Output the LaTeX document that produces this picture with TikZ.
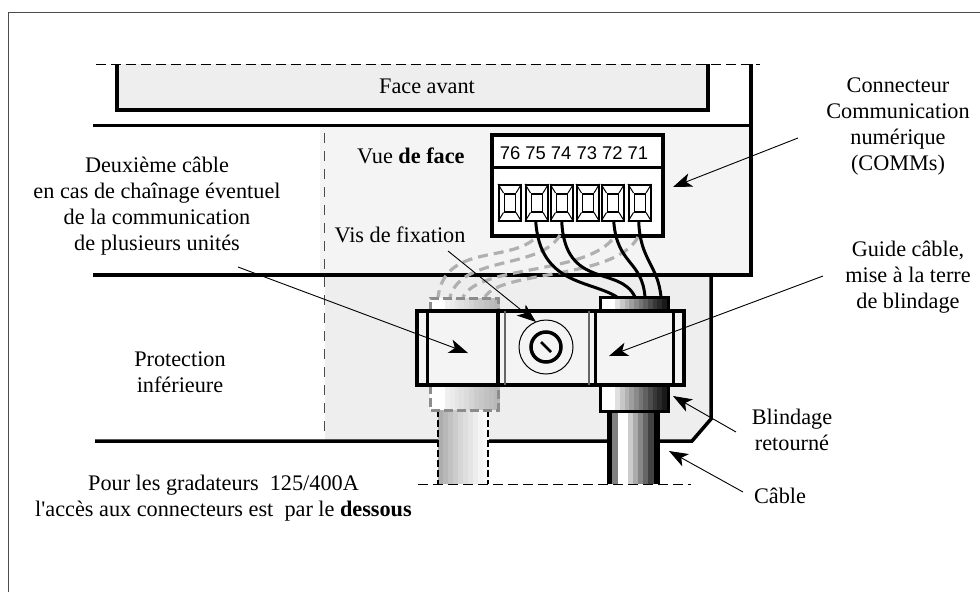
\documentclass[tikz,border=0pt]{standalone}
\usepackage{fontspec}
\setmainfont{Liberation Serif}
\newfontfamily\sansfont{Liberation Sans}
\usetikzlibrary{arrows.meta}
\definecolor{FaceFill}{RGB}{238,238,238}
\definecolor{PanelFill}{RGB}{244,244,244}
\definecolor{WireGrey}{RGB}{176,176,176}
\definecolor{DashGrey}{RGB}{140,140,140}

\begin{document}
\begin{tikzpicture}[x=1pt,y=-1pt,line join=miter,
  txt/.style={font=\fontsize{22.25}{26}\selectfont,align=center,inner sep=0pt},
  hull/.style={line width=3.5pt},
  leader/.style={line width=0.9pt,-{Stealth[length=19pt,width=14pt,inset=5pt]}},
  wire/.style={line width=3pt},
  dashwire/.style={line width=3.2pt,color=WireGrey,dash pattern=on 10pt off 6pt},
  cut/.style={line width=1pt,dash pattern=on 10pt off 5pt},
  band/.style={draw=none,fill=#1}]
\useasboundingbox (0,0) rectangle (980,592);
\draw[line width=1pt,black!70] (8,592) -- (8,12) -- (980,12);
% fills
\fill[FaceFill] (117,64) rectangle (708,110);
\fill[PanelFill] (320,127) rectangle (751,275);
\fill[FaceFill] (325,275) -- (711,275) -- (711,418) -- (692,441) -- (325,441) -- cycle;
% outline
\draw[hull] (117,64) -- (117,110) -- (708,110) -- (708,64);
\draw[cut] (96,64) -- (760,64);
\draw[hull] (93,125.5) -- (751,125.5);
\draw[hull] (751,64) -- (751,275) -- (93,275);
\draw[hull] (711,275) -- (711,419) -- (692,441) -- (95,441);
\draw[line width=1pt,black!70,dash pattern=on 10pt off 8pt] (324,133) -- (324,435);
% connector block
\node[draw,line width=3.5pt,fill=white,minimum width=171pt,minimum height=101pt,inner sep=0pt] (conn) at (577.5,185.5) {};
\draw[line width=3pt] (492,167) -- (663,167);
\node[font=\sansfont\fontsize{18.4}{20}\selectfont,inner sep=0pt] (numbers) at (574,153) {76 75 74 73 72 71};
\foreach \i/\x in {1/498,2/525,3/550,4/576,5/601,6/628} {
  \node[draw,line width=1.5pt,minimum width=22pt,minimum height=36pt,inner sep=0pt,anchor=north west] (term\i) at (\x,184) {};
  \node[draw,line width=1.5pt,minimum width=11pt,minimum height=18pt,inner sep=0pt] (slot\i) at (term\i.center) {};
  \draw[line width=1pt] (term\i.north west) -- (slot\i.north west) (term\i.north east) -- (slot\i.north east)
     (term\i.south west) -- (slot\i.south west) (term\i.south east) -- (slot\i.south east);
}
% dashed wires of the second cable
\draw[dashwire] (533,240) .. controls (505,262) and (445,245) .. (438,297);
\draw[dashwire] (560,235) .. controls (540,270) and (462,255) .. (450,297);
\draw[dashwire] (612,240) .. controls (580,275) and (480,265) .. (463,297);
\draw[dashwire] (638,237) .. controls (615,280) and (500,270) .. (485,297);
% wires
\draw[wire] (term2.south) ++(-1,0) .. controls (540,285) and (590,280) .. (617,297);
\draw[wire] (term3.south) ++(0,0) .. controls (565,290) and (620,265) .. (635,297);
\draw[wire] (term5.south) ++(1,0) .. controls (617,265) and (642,260) .. (645,297);
\draw[wire] (term6.south) ++(-1,0) .. controls (640,260) and (658,265) .. (661,297);
% collars and cables
\foreach \y/\h in {298/13,385/25} {
  \foreach \i/\g in {0/0,1/0,2/0,3/6,4/8,5/10,6/12,7/14,8/17,9/20,10/22,11/24,12/26,13/28} {
    \fill[band={black!\g}] (430+\i*4.9,\y) rectangle (436+\i*4.9,\y+\h);
  }
}
\foreach \y/\h in {298/13,385/26} {
  \foreach \i/\g in {0/0,1/0,2/0,3/12,4/22,5/30,6/38,7/46,8/54,9/62,10/70,11/78,12/84,13/90} {
    \fill[band={black!\g}] (601+\i*4.7,\y) rectangle (606+\i*4.7,\y+\h);
  }
}
\foreach \i/\g in {0/32,1/28,2/24,3/20,4/16,5/13,6/10,7/7,8/4,9/2} {
  \fill[band={black!\g}] (438+\i*5,410) rectangle (443.5+\i*5,484);
}
\foreach \x/\g/\w in {607/100/5.5,612/50/6.5,618/0/10,628/20/5,633/33/5,638/47/5,643/60/5,648/74/6,654/100/5.5} {
  \fill[band={black!\g}] (\x,411) rectangle (\x+\w,484);
}
\draw[line width=1.2pt,dash pattern=on 7pt off 3pt] (438,410) -- (438,484);
\draw[line width=1.2pt,dash pattern=on 7pt off 3pt] (488,410) -- (488,484);
\draw[line width=3pt,DashGrey,dash pattern=on 9pt off 4pt] (430,311) -- (430,298) -- (498,298) -- (498,311);
\draw[line width=3pt,DashGrey,dash pattern=on 9pt off 4pt] (430,385) -- (430,410) -- (498,410) -- (498,385);
\draw[line width=3pt] (600,311) -- (600,297) -- (668,297) -- (668,311);
\draw[line width=3pt] (600,385) -- (600,411) -- (668,411) -- (668,385);
\draw[cut] (418,484) -- (691,484);
% guide
\node[draw,line width=3.5pt,fill=PanelFill,minimum width=267pt,minimum height=74pt,inner sep=0pt] (guide) at (550.5,348) {};
\draw[line width=3pt] (427,311) -- (427,385);
\draw[line width=3.5pt] (498,311) -- (498,385);
\draw[line width=1.5pt,black!60] (505,311) -- (505,385);
\draw[line width=1.5pt,black!60] (589,311) -- (589,385);
\draw[line width=3pt] (595,311) -- (595,385);
\draw[line width=3pt] (673,311) -- (673,383);
% screw
\node[circle,draw,line width=1pt,minimum size=54pt,inner sep=0pt] (screw) at (546,347) {};
\node[circle,draw,line width=3.5pt,minimum size=30pt,inner sep=0pt] (head) at (screw.center) {};
\draw[line width=2.5pt] ([shift={(-5,-5)}]head.center) -- ([shift={(5,5)}]head.center);
% labels
\node[txt] (face) at (427,86.5) {Face avant};
\node[txt,anchor=base west] (vue) at (357,163) {Vue \textbf{de face}};
\node[txt] (comms) at (898,126.5) {Connecteur\\Communication\\numérique\\(COMMs)};
\node[txt] (terre) at (908,277.5) {Guide câble,\\mise à la terre\\de blindage};
\node[txt] (second) at (157,206) {Deuxième câble\\en cas de chaînage éventuel\\de la communication\\de plusieurs unités};
\node[txt,anchor=base] (vis) at (400,242) {Vis de fixation};
\node[txt] (protection) at (180,372.5) {Protection\\inférieure};
\node[txt] (blindage) at (792,430) {Blindage\\retourné};
\node[txt,anchor=base] (cable) at (780,503) {Câble};
\node[txt] (pour) at (223.5,498) {Pour les gradateurs~~125/400A\\l\textquotesingle accès aux connecteurs est~~par le \textbf{dessous}};
% leaders
\coordinate (commsEnd) at (798,138);
\coordinate (terreEnd) at (823,276);
\coordinate (secondEnd) at (238,267);
\coordinate (visEnd) at (448,251);
\coordinate (blindageEnd) at (736,432);
\coordinate (cableEnd) at (743,492);
\coordinate (commsTip) at (673,187);
\coordinate (terreTip) at (609,356);
\coordinate (secondTip) at (468,353);
\coordinate (visTip) at (536,322);
\coordinate (blindageTip) at (673,396);
\coordinate (cableTip) at (669,451);
\draw[leader] (commsEnd) -- (commsTip);
\draw[leader] (terreEnd) -- (terreTip);
\draw[leader] (secondEnd) -- (secondTip);
\draw[leader] (visEnd) -- (visTip);
\draw[leader] (blindageEnd) -- (blindageTip);
\draw[leader] (cableEnd) -- (cableTip);
\end{tikzpicture}
\end{document}
